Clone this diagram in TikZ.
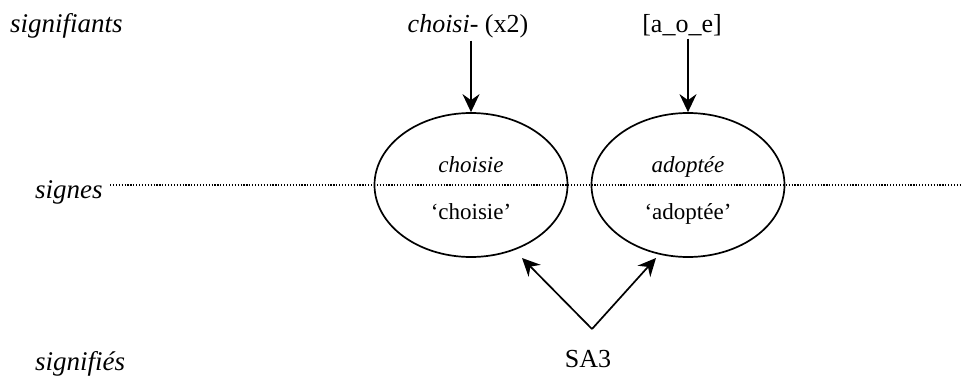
\documentclass[tikz,border=0pt]{standalone}
\usepackage{fontspec}
\setmainfont{Liberation Serif}
\usetikzlibrary{arrows.meta,shapes.geometric}
\begin{document}
\begin{tikzpicture}[x=1pt,y=1pt,
  rowlabel/.style={font=\fontsize{27}{31}\selectfont\itshape, anchor=base west, inner sep=0pt},
  bigtext/.style={font=\fontsize{26}{30}\selectfont, anchor=base, inner sep=3pt},
  smalltext/.style={font=\fontsize{23}{27}\selectfont, anchor=base, inner sep=0pt},
  signe/.style={draw, ellipse, line width=1.7pt, minimum width=193pt, minimum height=144pt, inner sep=0pt},
  arr/.style={-{Stealth[length=18pt,width=17pt,inset=6pt]}, line width=1.7pt},
  dotline/.style={line width=1.2pt, dash pattern=on 1.2pt off 1.7pt}
]
\useasboundingbox (0,0) rectangle (962,-381);

% row labels
\node[rowlabel] (lsignifiants) at (10,-32) {signifiants};
\node[rowlabel] (lsignes) at (35,-198) {signes};
\node[rowlabel] (lsignifies) at (35,-370) {signifiés};

% dotted line of the sign level
\coordinate (dl) at (110,-185);
\coordinate (dr) at (962,-185);
\draw[dotline] (dl) -- (dr);

% signs
\node[signe] (e1) at (471,-185) {};
\node[signe] (e2) at (688,-185) {};
\node[smalltext] (f1) at (471,-172) {\itshape choisie};
\node[smalltext] (s1) at (471,-219) {‘choisie’};
\node[smalltext] (f2) at (688,-172) {\itshape adoptée};
\node[smalltext] (s2) at (688,-219) {‘adoptée’};

% signifiants
\node[bigtext] (c1) at (468,-32) {\textit{choisi-} (x2)};
\node[bigtext] (a1) at (682,-32) {[a\_o\_e]};
\draw[arr] (e1.north |- c1.south) -- (e1.north);
\draw[arr] (e2.north |- a1.south) -- (e2.north);

% signifié
\node[bigtext] (sa) at (588,-367) {SA3};
\coordinate (apex) at (592,-329);
\coordinate (t1) at (522,-258);
\coordinate (t2) at (656,-258);
\draw[arr] (apex) -- (t1);
\draw[arr] (apex) -- (t2);
\end{tikzpicture}
\end{document}
